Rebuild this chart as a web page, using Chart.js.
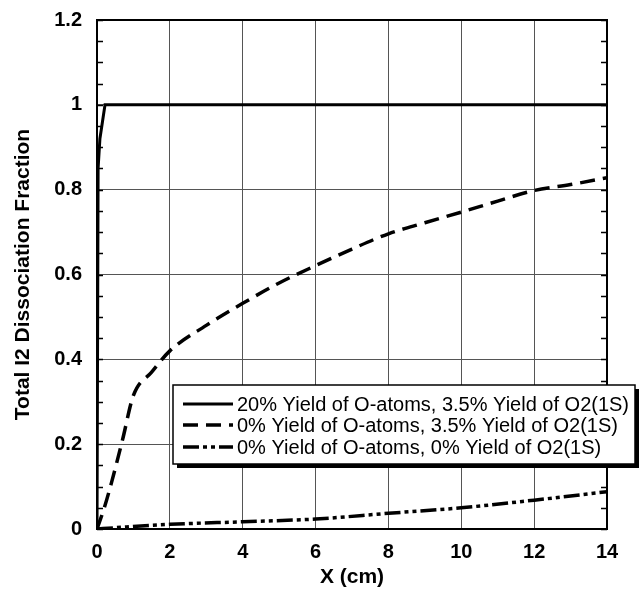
<!DOCTYPE html>
<html>
<head>
<meta charset="utf-8">
<script src="https://cdn.jsdelivr.net/npm/chart.js@4"></script>
<style>
  body { margin: 0; background: #fff; }
  #wrap { width: 639px; height: 591px; }
</style>
</head>
<body>
<div id="wrap"><canvas id="dissoc" width="639" height="591"></canvas></div>
<script>
// values
const seriesNames = [
  '20% Yield of O-atoms, 3.5% Yield of O2(1S)',
  '0% Yield of O-atoms, 3.5% Yield of O2(1S)',
  '0% Yield of O-atoms, 0% Yield of O2(1S)'
]
const oAtomX = [0, 0.03, 0.08, 0.15, 0.22, 1, 2, 4, 6, 8, 10, 12, 14]
const oAtomY = [0, 0.85, 0.92, 0.96, 1.0, 1, 1, 1, 1, 1, 1, 1, 1]
const noOX = [0, 0.2, 0.4, 0.7, 1.0, 1.5, 2, 3, 4, 5, 6, 7, 8, 9, 10, 11, 12, 13, 14]
const noOY = [0, 0.05, 0.11, 0.21, 0.315, 0.37, 0.42, 0.48, 0.532, 0.58, 0.621, 0.66, 0.696, 0.722, 0.747, 0.773, 0.798, 0.812, 0.828]
const noneX = [0, 0.5, 2, 4, 6, 8, 10, 12, 14]
const noneY = [0, 0.003, 0.011, 0.017, 0.0235, 0.037, 0.05, 0.068, 0.088]
const xTicks = [0, 2, 4, 6, 8, 10, 12, 14]
const yTicks = [0, 0.2, 0.4, 0.6, 0.8, 1, 1.2]

const pts = (xs, ys) => xs.map((x, i) => ({x: x, y: ys[i]}))

// frame, minor ticks and the boxed legend
const decor = {
  id: 'decor',
  afterDraw(chart) {
    const ctx = chart.ctx
    const a = chart.chartArea
    const ys = chart.scales.y
    ctx.save()
    ctx.strokeStyle = '#000'
    ctx.lineWidth = 1.5
    for (let v = 0; v <= 1.2001; v += 0.05) {
      const py = Math.round(ys.getPixelForValue(v)) + 0.5
      ctx.beginPath()
      ctx.moveTo(a.left, py); ctx.lineTo(a.left + 6, py)
      ctx.moveTo(a.right, py); ctx.lineTo(a.right - 6, py)
      ctx.stroke()
    }
    ctx.lineWidth = 2
    ctx.strokeRect(a.left, a.top, a.right - a.left, a.bottom - a.top)

    // legend box
    const bx = 173, by = 385, bw = 462, bh = 79
    ctx.fillStyle = '#000'
    ctx.fillRect(bx + 4, by + 4, bw, bh)
    ctx.fillStyle = '#fff'
    ctx.fillRect(bx, by, bw, bh)
    ctx.lineWidth = 1.5
    ctx.strokeRect(bx, by, bw, bh)
    ctx.font = '20px "Liberation Sans", Arial, sans-serif'
    ctx.textBaseline = 'middle'
    const rows = [404, 425, 447]
    chart.data.datasets.forEach((ds, i) => {
      ctx.strokeStyle = '#000'
      ctx.lineWidth = ds.borderWidth
      ctx.setLineDash(ds.borderDash || [])
      ctx.beginPath()
      ctx.moveTo(183, rows[i]); ctx.lineTo(233, rows[i])
      ctx.stroke()
      ctx.setLineDash([])
      ctx.fillStyle = '#000'
      ctx.fillText(ds.label, 237, rows[i] + 1)
    })
    ctx.restore()
  }
}

const tickFont = {family: '"Liberation Sans", Arial, sans-serif', size: 20, weight: 'bold'}
const titleFont = {family: '"Liberation Sans", Arial, sans-serif', size: 21, weight: 'bold'}

new Chart(document.getElementById('dissoc').getContext('2d'), {
  type: 'scatter',
  data: {
    datasets: [{
      label: seriesNames[0],
      data: pts(oAtomX, oAtomY),
      showLine: true,
      borderColor: '#000',
      borderWidth: 3,
      tension: 0
    }, {
      label: seriesNames[1],
      data: pts(noOX, noOY),
      showLine: true,
      borderColor: '#000',
      borderWidth: 3.5,
      borderDash: [15, 8],
      cubicInterpolationMode: 'monotone'
    }, {
      label: seriesNames[2],
      data: pts(noneX, noneY),
      showLine: true,
      borderColor: '#000',
      borderWidth: 3.5,
      borderDash: [16, 4, 4, 4, 4, 4],
      cubicInterpolationMode: 'monotone'
    }]
  },
  options: {
    responsive: false,
    animation: false,
    layout: {padding: {top: 20, right: 32, left: 0, bottom: 0}},
    elements: {point: {radius: 0}},
    scales: {
      x: {
        type: 'linear',
        min: 0, max: 14,
        afterFit(s) { s.height = 62 },
        afterBuildTicks(s) { s.ticks = xTicks.map(v => ({value: v})) },
        grid: {color: '#555', lineWidth: 1, drawTicks: false},
        border: {color: '#000', width: 2},
        ticks: {color: '#000', font: tickFont, padding: 11, maxRotation: 0},
        title: {display: true, text: 'X (cm)', color: '#000', font: titleFont, padding: {top: 0, bottom: 1}}
      },
      y: {
        min: 0, max: 1.2,
        afterFit(s) { s.width = 97; s.paddingTop = 0; s.paddingBottom = 0 },
        afterBuildTicks(s) { s.ticks = yTicks.map(v => ({value: v})) },
        grid: {color: '#555', lineWidth: 1, drawTicks: false},
        border: {color: '#000', width: 2},
        ticks: {color: '#000', font: tickFont, padding: 15, callback: v => String(v)},
        title: {display: true, text: 'Total I2 Dissociation Fraction', color: '#000', font: titleFont, padding: {top: 11, bottom: 0}}
      }
    },
    plugins: {
      legend: {display: false},
      tooltip: {enabled: false}
    }
  },
  plugins: [decor]
})
</script>
</body>
</html>
